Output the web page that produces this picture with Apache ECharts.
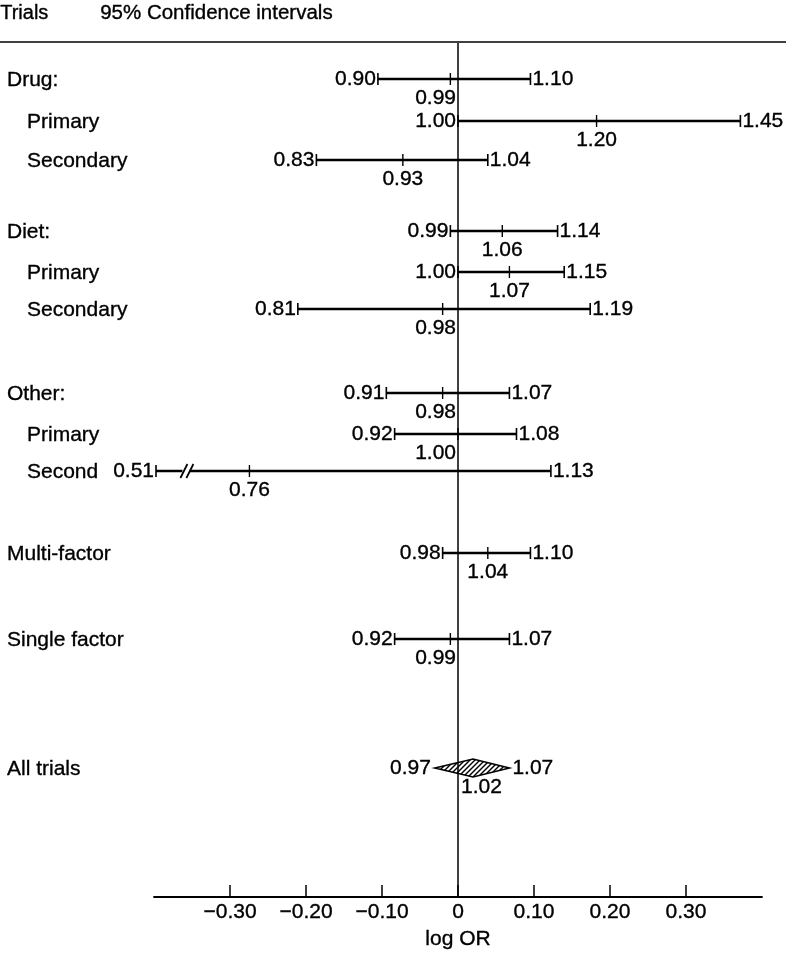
<!DOCTYPE html>
<html><head><meta charset="utf-8">
<script src="https://cdn.jsdelivr.net/npm/echarts@6/dist/echarts.min.js"></script>
<style>html,body{margin:0;padding:0;background:#fff}#c{width:786px;height:953px}</style>
</head><body><div id="c"></div>
<script>
// ---- data (odds ratios as printed) ----
const trials  = ['Drug:', 'Primary', 'Secondary', 'Diet:', 'Primary', 'Secondary',
                 'Other:', 'Primary', 'Second', 'Multi-factor', 'Single factor', 'All trials'];
const lowerOR = [0.90, 1.00, 0.83, 0.99, 1.00, 0.81, 0.91, 0.92, 0.51, 0.98, 0.92, 0.97];
const pointOR = [0.99, 1.20, 0.93, 1.06, 1.07, 0.98, 0.98, 1.00, 0.76, 1.04, 0.99, 1.02];
const upperOR = [1.10, 1.45, 1.04, 1.14, 1.15, 1.19, 1.07, 1.08, 1.13, 1.10, 1.07, 1.07];
const tickValues = [-0.3, -0.2, -0.1, 0, 0.1, 0.2, 0.3];

// ---- layout (not data) ----
const indented = [false, true, true, false, true, true, false, true, true, false, false, false];
const rowSlot  = [0, 1.05, 2.025, 3.8, 4.825, 5.75, 7.85, 8.875, 9.8, 11.85, 14.0, 17.225];
const pooledIndex = 11;
const FONT = '"Liberation Sans", Arial, sans-serif';
const FS = 21;
const X_MIN = -0.4, X_MAX = 0.4;

const measure = document.createElement('canvas').getContext('2d');
measure.font = FS + 'px ' + FONT;

// hatch pattern for pooled diamond
const pat = document.createElement('canvas');
pat.width = 5; pat.height = 5;
const pc = pat.getContext('2d');
pc.fillStyle = '#fff'; pc.fillRect(0, 0, 5, 5);
pc.strokeStyle = '#000'; pc.lineWidth = 1.4;
for (const o of [-5, 0, 5]) { pc.beginPath(); pc.moveTo(o - 1, 6); pc.lineTo(o + 6, -1); pc.stroke(); }

const seriesData = trials.map((t, i) => [rowSlot[i], Math.log(lowerOR[i]), Math.log(pointOR[i]), Math.log(upperOR[i])]);

function txt(text, x, y, align) {
  return { type: 'text', style: { text, x, y, align, verticalAlign: 'middle',
    font: FS + 'px ' + FONT, fill: '#000', stroke: '#000', lineWidth: 0.35 } };
}

function renderItem(params, api) {
  const i = params.dataIndex;
  const slot = api.value(0), lo = api.value(1), pt = api.value(2), hi = api.value(3);
  const clipped = lo < X_MIN;
  const xLo = api.coord([clipped ? X_MIN : lo, slot])[0] + (clipped ? 2 : 0);
  const xPt = api.coord([pt, slot])[0];
  const xHi = api.coord([hi, slot])[0];
  const x0 = api.coord([0, slot])[0];
  const cy = api.coord([0, slot])[1];
  const ch = [];
  ch.push(txt(trials[i], indented[i] ? 27 : 7, cy + 1, 'left'));
  const capStyle = { stroke: '#000', lineWidth: 1.6 };
  if (i === pooledIndex) {
    ch.push({ type: 'polygon', shape: { points: [[xLo, cy], [xPt, cy - 9], [xHi, cy], [xPt, cy + 9]] },
      style: { fill: { image: pat, repeat: 'repeat' }, stroke: '#000', lineWidth: 1.6 } });
    ch.push(txt(lowerOR[i].toFixed(2), xLo - 4, cy, 'right'));
    ch.push(txt(upperOR[i].toFixed(2), xHi + 3, cy, 'left'));
  } else {
    ch.push({ type: 'line', shape: { x1: xLo, y1: cy, x2: xHi, y2: cy }, style: { stroke: '#000', lineWidth: 2.4 } });
    ch.push({ type: 'line', shape: { x1: xLo, y1: cy - 6, x2: xLo, y2: cy + 6 }, style: capStyle });
    ch.push({ type: 'line', shape: { x1: xHi, y1: cy - 6, x2: xHi, y2: cy + 6 }, style: capStyle });
    ch.push({ type: 'line', shape: { x1: xPt, y1: cy - 6, x2: xPt, y2: cy + 6 }, style: { stroke: '#000', lineWidth: 1.4 } });
    if (clipped) {
      const xb = api.coord([X_MIN + 0.04, slot])[0];
      ch.push({ type: 'rect', shape: { x: xb - 2, y: cy - 3, width: 7, height: 6 }, style: { fill: '#fff' } });
      ch.push({ type: 'line', shape: { x1: xb - 4, y1: cy + 7, x2: xb + 3, y2: cy - 7 }, style: { stroke: '#000', lineWidth: 1.7 } });
      ch.push({ type: 'line', shape: { x1: xb + 2, y1: cy + 7, x2: xb + 9, y2: cy - 7 }, style: { stroke: '#000', lineWidth: 1.7 } });
    }
    ch.push(txt(lowerOR[i].toFixed(2), xLo - 2, cy, 'right'));
    ch.push(txt(upperOR[i].toFixed(2), xHi + 2, cy, 'left'));
  }
  // point estimate label below, kept clear of the zero line
  const pText = pointOR[i].toFixed(2);
  const w = measure.measureText(pText).width;
  let left = xPt - w / 2;
  if (left < x0 + 3 && left + w > x0 - 3) {
    left = pt <= 0 ? x0 - 2 - w : x0 + 3;
  }
  ch.push(txt(pText, left, cy + 19, 'left'));
  return { type: 'group', children: ch };
}

const chart = echarts.init(document.getElementById('c'), null, { renderer: 'canvas' });
chart.setOption({
  animation: false,
  backgroundColor: '#fff',
  grid: { left: 154, right: 24, top: 43, bottom: 56, containLabel: false, outerBoundsMode: 'none' },
  xAxis: {
    type: 'value', min: X_MIN, max: X_MAX, interval: 0.1,
    name: 'log OR', nameLocation: 'middle', nameGap: 31,
    nameTextStyle: { fontFamily: FONT, fontSize: FS, color: '#000', textBorderColor: '#000', textBorderWidth: 0.35 },
    axisLine: { show: true, onZero: false, lineStyle: { color: '#000', width: 1.8 } },
    axisTick: { show: true, inside: true, length: 12, customValues: tickValues, lineStyle: { color: '#000', width: 1.5 } },
    axisLabel: { customValues: tickValues, margin: 5, fontFamily: FONT, fontSize: FS, color: '#000',
      textBorderColor: '#000', textBorderWidth: 0.35,
      formatter: v => Math.abs(v) < 1e-9 ? '0' : (v < 0 ? '\u2212' : '') + Math.abs(v).toFixed(2) },
    splitLine: { show: false }
  },
  yAxis: { type: 'value', inverse: true, min: -0.9, max: 20.45, show: false },
  graphic: [
    { type: 'text', left: 0, top: 3, style: { text: 'Trials', font: '20px ' + FONT, fill: '#000', stroke: '#000', lineWidth: 0.35 } },
    { type: 'text', left: 100, top: 3, style: { text: '95% Confidence intervals', font: '20.5px ' + FONT, fill: '#000', stroke: '#000', lineWidth: 0.35 } },
    { type: 'line', shape: { x1: 0, y1: 42, x2: 786, y2: 42 }, style: { stroke: '#000', lineWidth: 1.6 } }
  ],
  series: [{
    type: 'custom',
    renderItem,
    data: seriesData,
    encode: { x: [1, 2, 3], y: 0 },
    silent: true,
    markLine: {
      silent: true, symbol: 'none', label: { show: false },
      lineStyle: { color: '#000', width: 1.5, type: 'solid' },
      data: [{ xAxis: 0 }]
    }
  }]
});
</script>
</body></html>
